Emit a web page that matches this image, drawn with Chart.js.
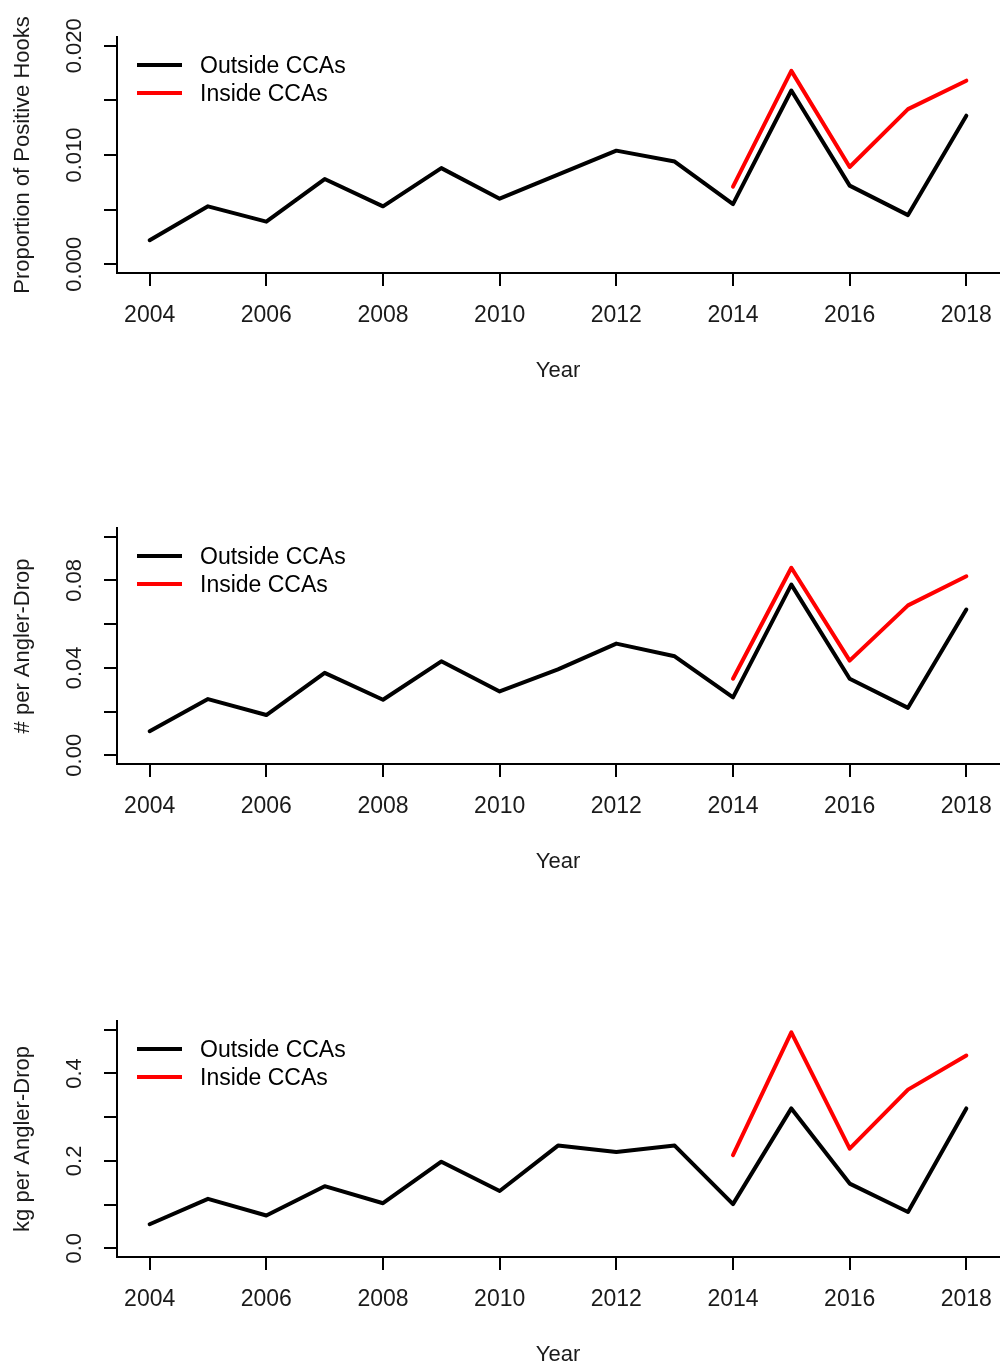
<!DOCTYPE html>
<html>
<head>
<meta charset="utf-8">
<script src="https://cdn.jsdelivr.net/npm/chart.js@4/dist/chart.umd.min.js"></script>
<style>
body { margin: 0; background: #fff; }
#wrap { position: relative; width: 1000px; height: 1370px; }
canvas { position: absolute; left: 0; }
</style>
</head>
<body>
<div id="wrap">
  <canvas id="c1" width="1000" height="386" style="top:0px"></canvas>
  <canvas id="c2" width="1000" height="386" style="top:491px"></canvas>
  <canvas id="c3" width="1000" height="386" style="top:984px"></canvas>
</div>
<script>
// years and x ticks
var years = [2004, 2005, 2006, 2007, 2008, 2009, 2010, 2011, 2012, 2013, 2014, 2015, 2016, 2017, 2018];
var xTicks = [2004, 2006, 2008, 2010, 2012, 2014, 2016, 2018];
var seriesLabels = ['Outside CCAs', 'Inside CCAs'];

// panel 1: proportion of positive hooks
var hooksOutside = [0.0022, 0.0053, 0.0039, 0.0078, 0.0053, 0.0088, 0.0060, 0.0082, 0.0104, 0.0094, 0.0055, 0.0159, 0.0072, 0.0045, 0.0136];
var hooksInside = [null, null, null, null, null, null, null, null, null, null, 0.0071, 0.0177, 0.0089, 0.0142, 0.0168];
var hooksTicks = [0, 0.005, 0.010, 0.015, 0.020];
var hooksTickLabels = ['0.000', '', '0.010', '', '0.020'];

// panel 2: number per angler-drop
var numOutside = [0.011, 0.0257, 0.0184, 0.0377, 0.0254, 0.0430, 0.0292, 0.0393, 0.0511, 0.0453, 0.0265, 0.0781, 0.0350, 0.0217, 0.0667];
var numInside = [null, null, null, null, null, null, null, null, null, null, 0.0350, 0.0858, 0.0433, 0.0686, 0.0819];
var numTicks = [0, 0.02, 0.04, 0.06, 0.08, 0.10];
var numTickLabels = ['0.00', '', '0.04', '', '0.08', ''];

// panel 3: kg per angler-drop
var kgOutside = [0.055, 0.113, 0.075, 0.142, 0.103, 0.198, 0.131, 0.235, 0.220, 0.235, 0.101, 0.320, 0.148, 0.083, 0.320];
var kgInside = [null, null, null, null, null, null, null, null, null, null, 0.213, 0.494, 0.228, 0.363, 0.441];
var kgTicks = [0, 0.1, 0.2, 0.3, 0.4, 0.5];
var kgTickLabels = ['0.0', '', '0.2', '', '0.4', ''];

var FONT = 'Arial, "Liberation Sans", sans-serif';

// legend drawn inside the plot area, R style
var lineLegend = {
  id: 'lineLegend',
  afterDraw: function (chart) {
    var ctx = chart.ctx;
    var a = chart.chartArea;
    ctx.save();
    ctx.font = '23px ' + FONT;
    ctx.textBaseline = 'middle';
    ctx.textAlign = 'left';
    chart.data.datasets.forEach(function (ds, i) {
      var y = a.top + 28 + i * 28;
      ctx.strokeStyle = ds.borderColor;
      ctx.lineWidth = ds.borderWidth;
      ctx.lineCap = 'butt';
      ctx.beginPath();
      ctx.moveTo(a.left + 20, y);
      ctx.lineTo(a.left + 65, y);
      ctx.stroke();
      ctx.fillStyle = '#000';
      ctx.fillText(ds.label, a.left + 83, y + 2);
    });
    ctx.restore();
  }
};

function points(vals) {
  return years.map(function (yr, i) { return { x: yr, y: vals[i] }; });
}

function drawPanel(id, yTitle, outside, inside, ticks, tickLabels, ymax) {
  // center rotated y labels at x=75
  var m = document.createElement('canvas').getContext('2d');
  m.font = '22px ' + FONT;
  var widest = 0;
  tickLabels.forEach(function (t) { widest = Math.max(widest, m.measureText(t).width); });
  var yPad = 29 - widest / 2;
  var ext = ymax * 0.04;

  new Chart(document.getElementById(id).getContext('2d'), {
    type: 'line',
    data: {
      datasets: [
        { label: seriesLabels[0], data: points(outside), borderColor: '#000000', borderWidth: 4 },
        { label: seriesLabels[1], data: points(inside), borderColor: '#ff0000', borderWidth: 4 }
      ]
    },
    options: {
      responsive: false,
      animation: false,
      devicePixelRatio: 1,
      layout: { padding: { top: 37, left: 0, right: 1, bottom: 0 } },
      elements: {
        point: { radius: 0 },
        line: { tension: 0, borderJoinStyle: 'round', borderCapStyle: 'round' }
      },
      plugins: { legend: { display: false }, tooltip: { enabled: false } },
      scales: {
        x: {
          type: 'linear',
          min: 2004 - 14 * 0.04,
          max: 2018 + 14 * 0.04,
          afterBuildTicks: function (s) { s.ticks = xTicks.map(function (v) { return { value: v }; }); },
          afterFit: function (s) { s.height = 113; },
          grid: { drawOnChartArea: false, drawTicks: true, tickLength: 13, lineWidth: 2, color: '#000' },
          border: { display: true, color: '#000', width: 2 },
          ticks: {
            autoSkip: false, maxRotation: 0, padding: 3, color: '#1a1a1a',
            font: { family: FONT, size: 23, lineHeight: '54px' },
            callback: function (v) { return String(v); }
          },
          title: { display: true, text: 'Year', color: '#1a1a1a', font: { family: FONT, size: 22 }, padding: { top: 0, bottom: 2 } }
        },
        y: {
          type: 'linear',
          min: -ext,
          max: ymax + ext,
          afterBuildTicks: function (s) { s.ticks = ticks.map(function (v) { return { value: v }; }); },
          afterFit: function (s) { s.width = 117; },
          grid: { drawOnChartArea: false, drawTicks: true, tickLength: 13, lineWidth: 2, color: '#000' },
          border: { display: true, color: '#000', width: 2 },
          ticks: {
            minRotation: 90, maxRotation: 90, crossAlign: 'center', padding: yPad, color: '#1a1a1a',
            font: { family: FONT, size: 22 },
            callback: function (v, i) { return tickLabels[i]; }
          },
          title: { display: true, text: yTitle, color: '#1a1a1a', font: { family: FONT, size: 22 }, padding: { top: 10, bottom: 0 } }
        }
      }
    },
    plugins: [lineLegend]
  });
}

window.onload = function () {
  drawPanel('c1', 'Proportion of Positive Hooks', hooksOutside, hooksInside, hooksTicks, hooksTickLabels, 0.02);
  drawPanel('c2', '# per Angler-Drop', numOutside, numInside, numTicks, numTickLabels, 0.1);
  drawPanel('c3', 'kg per Angler-Drop', kgOutside, kgInside, kgTicks, kgTickLabels, 0.5);
};
</script>
</body>
</html>
